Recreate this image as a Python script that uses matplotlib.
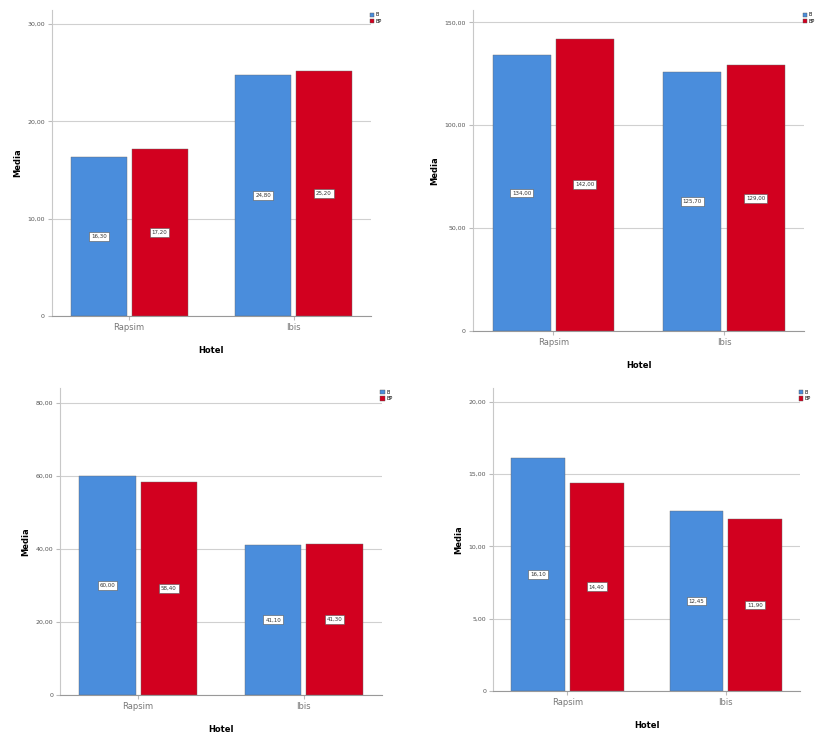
import matplotlib.pyplot as plt
from matplotlib.patches import Patch

# Dati (medie per hotel e gruppo)
hotels = ["Rapsim", "Ibis"]
gruppi = ["B", "BP"]

media_a_b = [16.3, 24.8]
media_a_bp = [17.2, 25.2]

media_b_b = [134.0, 125.7]
media_b_bp = [142.0, 129.0]

media_c_b = [60.0, 41.1]
media_c_bp = [58.4, 41.3]

media_d_b = [16.1, 12.45]
media_d_bp = [14.4, 11.9]

tick_a = [0, 10, 20, 30]
tick_b = [0, 50, 100, 150]
tick_c = [0, 20, 40, 60, 80]
tick_d = [0, 5, 10, 15, 20]

BLU = "#4a8ddc"
ROSSO = "#d2001f"


def fmt(v):
    s = f"{v:,.2f}".replace(",", "X").replace(".", ",").replace("X", ".")
    if s.startswith("0,"):
        s = s[1:]
    return s


def pannello(fig, rect, v1, v2, ticks, ytop):
    ax = fig.add_axes(rect)
    x = range(len(hotels))
    w = 0.34
    off = 0.185
    for serie, col, d in [(v1, BLU, -off), (v2, ROSSO, off)]:
        xs = [i + d for i in x]
        ax.bar(xs, serie, width=w, color=col, edgecolor="#6a6a6a", linewidth=0.3, zorder=3)
        for xi, v in zip(xs, serie):
            ax.text(xi, v / 2, fmt(v), ha="center", va="center", fontsize=4,
                    color="#333333", zorder=4,
                    bbox=dict(boxstyle="square,pad=0.35", fc="white", ec="#555555", lw=0.4))
    ax.set_xlim(-0.47, 1.47)
    ax.set_ylim(0, ytop)
    ax.set_yticks(ticks)
    ax.set_yticklabels([fmt(t) if t else "0" for t in ticks], fontsize=4.5, color="#555555")
    ax.set_xticks(list(x))
    ax.set_xticklabels(hotels, fontsize=6, color="#777777")
    ax.yaxis.grid(True, color="#d0d0d0", linewidth=0.8, zorder=0)
    ax.set_axisbelow(True)
    for s in ["top", "right"]:
        ax.spines[s].set_visible(False)
    ax.spines["left"].set_color("#c8c8c8")
    ax.spines["bottom"].set_color("#999999")
    ax.tick_params(axis="both", length=3, color="#bbbbbb", pad=2)
    ax.set_ylabel("Media", fontsize=6, fontweight="bold", labelpad=4)
    ax.set_xlabel("Hotel", fontsize=6, fontweight="bold", labelpad=10)
    handles = [Patch(fc=BLU, ec="#555555", lw=0.3), Patch(fc=ROSSO, ec="#555555", lw=0.3)]
    ax.legend(handles, gruppi, loc="upper left", bbox_to_anchor=(0.99, 1.0), frameon=False,
              fontsize=3.5, handlelength=0.9, handleheight=0.9, handletextpad=0.3,
              labelspacing=0.3, borderaxespad=0)
    return ax


fig = plt.figure(figsize=(8.37, 7.4), dpi=100)
pannello(fig, [0.062, 0.573, 0.381, 0.413], media_a_b, media_a_bp, tick_a, 31.4)
pannello(fig, [0.565, 0.553, 0.396, 0.433], media_b_b, media_b_bp, tick_b, 155.8)
pannello(fig, [0.072, 0.061, 0.384, 0.415], media_c_b, media_c_bp, tick_c, 84.1)
pannello(fig, [0.589, 0.066, 0.367, 0.410], media_d_b, media_d_bp, tick_d, 20.95)

fig.savefig("out.png", dpi=100)
